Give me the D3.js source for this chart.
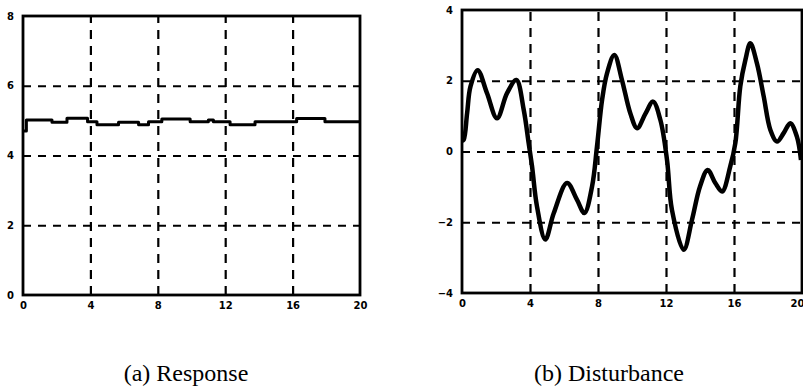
<!DOCTYPE html>
<html>
<head>
<meta charset="utf-8">
<script src="https://cdn.jsdelivr.net/npm/d3@7"></script>
<style>
  body { margin: 0; background: #fff; }
  svg { display: block; }
</style>
</head>
<body>
<div id="chart"></div>
<script>
// Data
const xTicks = [0, 4, 8, 12, 16, 20];
const respTicks = [0, 2, 4, 6, 8];
const distTicks = [-4, -2, 0, 2, 4];

// (a) Response: step trace around 5
const respT = [0, 0.2, 1.72, 2.61, 3.83, 4.39, 5.67, 6.86, 7.45, 8.24, 9.92, 11.0, 11.3, 12.29, 13.77, 16.24, 17.92, 20];
const respV = [4.7, 5.02, 4.95, 5.07, 4.97, 4.88, 4.95, 4.88, 4.97, 5.05, 4.97, 5.02, 4.97, 4.88, 4.97, 5.06, 4.97, 4.97];

// (b) Disturbance
const distT = [0, 0.1, 0.3, 0.5, 0.92, 1.47, 2.06, 2.65, 3.2, 3.63, 3.92, 4.12, 4.41, 4.9, 5.4, 6.18, 6.76, 7.2, 7.65, 7.94, 8.24, 8.53, 8.96, 9.41, 9.9, 10.3, 10.8, 11.24, 11.67, 12.06, 12.35, 13.04, 13.53, 14.0, 14.45, 14.9, 15.3, 15.78, 16.08, 16.37, 16.67, 16.96, 17.35, 17.75, 18.14, 18.53, 18.92, 19.31, 19.7, 19.94];
const distV = [0.3, 0.33, 1.08, 1.84, 2.3, 1.65, 0.94, 1.65, 2.02, 1.18, 0.24, -0.42, -1.55, -2.49, -1.74, -0.89, -1.36, -1.74, -0.99, 0.14, 1.46, 2.21, 2.73, 2.02, 1.08, 0.66, 1.08, 1.41, 0.89, -0.24, -1.65, -2.78, -1.93, -0.99, -0.52, -0.89, -1.13, -0.42, 0.24, 1.84, 2.59, 3.06, 2.49, 1.55, 0.61, 0.28, 0.52, 0.8, 0.42, -0.24];

const captions = ["(a) Response", "(b) Disturbance"];

const W = 803, H = 389;
const svg = d3.select("#chart").append("svg")
  .attr("width", W)
  .attr("height", H);

// draws one boxed panel with dashed grid
function panel(left, top, w, h, yTicks, yDom, tArr, vArr, curve, lw, caption, capX) {
  const x = d3.scaleLinear().domain([0, 20]).range([left, left + w]);
  const y = d3.scaleLinear().domain(yDom).range([top + h, top]);
  const g = svg.append("g");

  // grid
  g.append("g")
    .attr("transform", `translate(0,${top + h})`)
    .call(d3.axisBottom(x).tickValues(xTicks.slice(1, -1)).tickSize(-h).tickFormat(""))
    .call(a => a.select(".domain").remove())
    .selectAll("line")
    .attr("stroke", "#000")
    .attr("stroke-width", 2.2)
    .attr("stroke-dasharray", "9,7");
  g.append("g")
    .attr("transform", `translate(${left},0)`)
    .call(d3.axisLeft(y).tickValues(yTicks.slice(1, -1)).tickSize(-w).tickFormat(""))
    .call(a => a.select(".domain").remove())
    .selectAll("line")
    .attr("stroke", "#000")
    .attr("stroke-width", 2.2)
    .attr("stroke-dasharray", "8,7");

  // tick labels
  const xl = g.append("g")
    .attr("transform", `translate(0,${top + h + 4})`)
    .call(d3.axisBottom(x).tickValues(xTicks).tickSize(0))
    .call(a => a.select(".domain").remove());
  xl.selectAll("text")
    .attr("font-family", "DejaVu Sans")
    .attr("font-weight", "bold")
    .attr("font-size", 10)
    .attr("fill", "#000");
  // keep the last label inside the window
  if (left + w > W - 8) {
    xl.selectAll("text").filter(d => d === 20).attr("text-anchor", "end").attr("dx", 2);
  }
  g.append("g")
    .attr("transform", `translate(${left - 6},0)`)
    .call(d3.axisLeft(y).tickValues(yTicks).tickSize(0))
    .call(a => a.select(".domain").remove())
    .selectAll("text")
    .attr("font-family", "DejaVu Sans")
    .attr("font-weight", "bold")
    .attr("font-size", 10)
    .attr("fill", "#000");

  // trace
  const data = tArr.map((t, i) => [t, vArr[i]]);
  g.append("path")
    .datum(data)
    .attr("fill", "none")
    .attr("stroke", "#000")
    .attr("stroke-width", lw)
    .attr("stroke-linejoin", "round")
    .attr("d", d3.line().x(d => x(d[0])).y(d => y(d[1])).curve(curve));

  // frame
  g.append("rect")
    .attr("x", left).attr("y", top)
    .attr("width", w).attr("height", h)
    .attr("fill", "none")
    .attr("stroke", "#000")
    .attr("stroke-width", 2.8);

  svg.append("text")
    .attr("x", capX).attr("y", 381)
    .attr("text-anchor", "middle")
    .attr("font-family", "Liberation Serif")
    .attr("font-size", 24)
    .text(caption);
}

panel(23, 16, 337, 279, respTicks, [0, 8], respT, respV, d3.curveStepAfter, 3, captions[0], 186);
panel(462, 10, 340, 283, distTicks, [-4, 4], distT, distV, d3.curveCatmullRom.alpha(0.5), 4.5, captions[1], 609);
</script>
</body>
</html>
